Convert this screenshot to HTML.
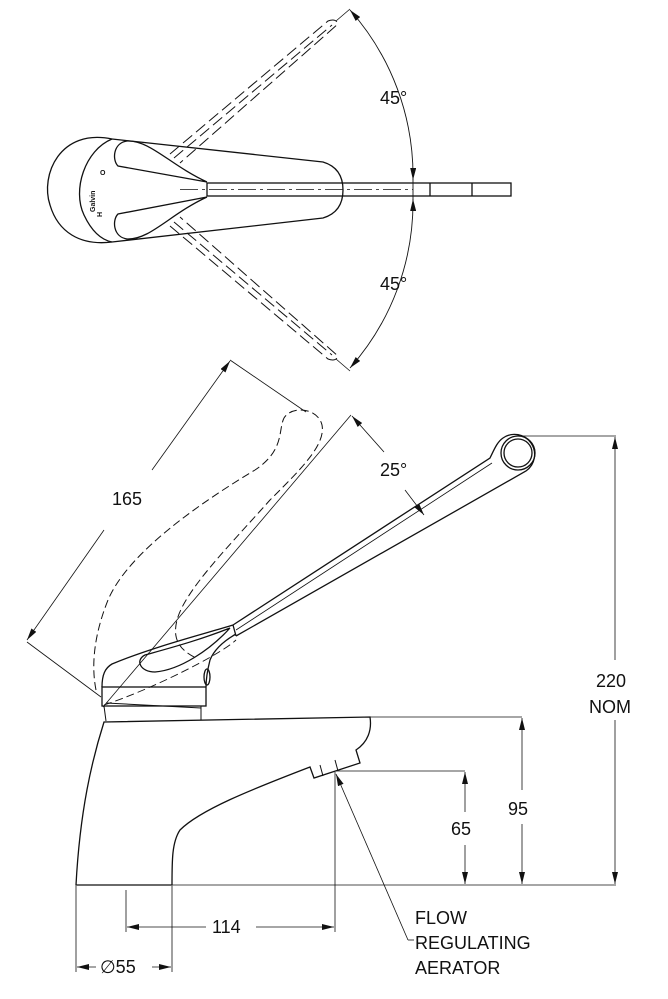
<!DOCTYPE html>
<html><head><meta charset="utf-8"><style>
html,body{margin:0;padding:0;background:#fff}
svg{display:block}
text{font-family:"Liberation Sans",sans-serif;font-size:18px;fill:#111}
</style></head><body>
<svg width="668" height="999" viewBox="0 0 668 999" xmlns="http://www.w3.org/2000/svg">
<defs>
<marker id="ar" viewBox="0 0 12 6" refX="12" refY="3" markerWidth="12" markerHeight="6" orient="auto-start-reverse" markerUnits="userSpaceOnUse"><path d="M0,0 L12,3 L0,6 z" fill="#111"/></marker>
</defs>
<g fill="none" stroke="#111" stroke-width="1.3">
<!-- TOP VIEW -->
<path d="M112,139 C60,128 40,175 50,205 C58,232 80,246 112,242"/>
<path d="M112,139 C85,150 72,190 84,215 C92,232 102,240 112,242"/>
<path d="M112,139 L323,162 Q343,168 343,190 Q343,212 323,218 L112,242"/>
<path d="M207,182 C170,165 150,140 127,141 C113,143 112,160 118,166 L207,182"/>
<path d="M207,197 C170,214 150,240 127,239 C113,237 112,220 118,214 L207,197"/>
<rect x="207" y="183" width="304" height="13"/>
<line x1="430" y1="183" x2="430" y2="196"/>
<line x1="472" y1="183" x2="472" y2="196"/>
<line x1="180" y1="189.5" x2="413" y2="189.5" stroke-width="0.8" stroke-dasharray="18,4,3,4"/>
<g stroke-dasharray="12,5" stroke-width="1">
<path d="M170,154 L328,21 Q336,18 338,24 L180,163"/>
<path d="M174,158 L332,25"/>
<path d="M170,226 L328,359 Q336,362 338,356 L180,217"/>
<path d="M174,222 L332,355"/>
</g>
<line x1="336" y1="21" x2="350" y2="9" stroke-width="0.8"/>
<line x1="336" y1="359" x2="350" y2="371" stroke-width="0.8"/>
<path d="M350,10 A250,250 0 0 1 413,180" stroke-width="0.9" marker-start="url(#ar)" marker-end="url(#ar)"/>
<path d="M413,199 A250,250 0 0 1 350,368" stroke-width="0.9" marker-start="url(#ar)" marker-end="url(#ar)"/>
<line x1="413" y1="170" x2="413" y2="210" stroke-width="0.9"/>

<!-- SIDE VIEW handle -->
<rect x="102" y="687" width="104" height="19"/>
<path d="M104,706 L106,721 M201,706 L201,720 M106,703 L201,708" stroke-width="1"/>
<path d="M102,687 C102,675 105,668 112,664 C150,648 200,635 233,625"/>
<path d="M206,687 C206,678 208,668 210,660 C214,650 222,642 236,634"/>
<ellipse cx="207" cy="677" rx="3" ry="8"/>
<path d="M230,628 C200,640 170,648 145,655 C135,660 140,672 155,672 C180,670 210,650 230,628"/>
<path d="M233,625 L490,458 C494,450 497,442 503,438 A20,20 0 1 1 526,471 L236,636"/>
<path d="M236,630 L492,463" stroke-width="0.8"/>
<circle cx="518" cy="453" r="17"/>
<circle cx="518" cy="453" r="14"/>
<line x1="233" y1="625" x2="236" y2="636"/>
<!-- dashed upright lever -->
<path d="M96,690 C92,670 92,640 108,600 C125,560 180,515 255,470 C285,450 278,430 284,418 C292,405 318,408 322,425 C326,445 300,470 270,500 C230,545 185,590 177,620 C172,640 180,650 196,658" stroke-dasharray="8,4" stroke-width="1"/>
<path d="M104,705 C150,690 220,655 236,640" stroke-dasharray="8,4" stroke-width="0.9"/>
<!-- 165 dim -->
<line x1="230" y1="360" x2="306" y2="412" stroke-width="0.8"/>
<line x1="27" y1="642" x2="101" y2="697" stroke-width="0.8"/>
<line x1="230" y1="361" x2="152" y2="470" stroke-width="0.8" marker-start="url(#ar)"/>
<line x1="104" y1="530" x2="27" y2="640" stroke-width="0.8" marker-end="url(#ar)"/>
<!-- 25 dim -->
<line x1="351" y1="415" x2="103" y2="707" stroke-width="0.8"/>
<path d="M352,416 L384,452" stroke-width="0.8" marker-start="url(#ar)"/>
<path d="M405,490 L424,515" stroke-width="0.8" marker-end="url(#ar)"/>

<!-- BODY -->
<path d="M104,722 L370,717 C372,730 368,742 356,750 L360,763 L314,778 L310,767 C250,790 200,810 180,830 C172,842 172,860 172,885 L76,885 C80,810 92,760 104,722 Z"/>
<line x1="320" y1="765" x2="323" y2="776" stroke-width="1"/>
<line x1="335" y1="760" x2="338" y2="771" stroke-width="1"/>
<line x1="172" y1="885" x2="616" y2="885" stroke-width="0.8"/>
<!-- dims -->
<g stroke-width="0.8">
<line x1="335" y1="771" x2="465" y2="771"/>
<line x1="370" y1="717" x2="522" y2="717"/>
<line x1="520" y1="436" x2="616" y2="436"/>
<line x1="465" y1="772" x2="465" y2="812" marker-start="url(#ar)"/>
<line x1="465" y1="845" x2="465" y2="884" marker-end="url(#ar)"/>
<line x1="522" y1="718" x2="522" y2="790" marker-start="url(#ar)"/>
<line x1="522" y1="824" x2="522" y2="884" marker-end="url(#ar)"/>
<line x1="615" y1="437" x2="615" y2="660" marker-start="url(#ar)"/>
<line x1="615" y1="720" x2="615" y2="884" marker-end="url(#ar)"/>
<line x1="126" y1="890" x2="126" y2="932"/>
<line x1="335" y1="772" x2="335" y2="932"/>
<line x1="127" y1="927" x2="206" y2="927" marker-start="url(#ar)"/>
<line x1="256" y1="927" x2="334" y2="927" marker-end="url(#ar)"/>
<line x1="76" y1="886" x2="76" y2="972"/>
<line x1="172" y1="886" x2="172" y2="972"/>
<line x1="77" y1="967" x2="96" y2="967" marker-start="url(#ar)"/>
<line x1="152" y1="967" x2="171" y2="967" marker-end="url(#ar)"/>
<line x1="336" y1="774" x2="408" y2="940" marker-start="url(#ar)"/>
<line x1="408" y1="940" x2="414" y2="940"/>
</g>
</g>
<text x="380" y="104">45°</text>
<text x="380" y="290">45°</text>
<text x="112" y="505">165</text>
<text x="380" y="476">25°</text>
<text x="596" y="687">220</text>
<text x="589" y="713">NOM</text>
<text x="508" y="815">95</text>
<text x="451" y="835">65</text>
<text x="212" y="933">114</text>
<text x="100" y="973">∅55</text>
<text x="415" y="924">FLOW</text>
<text x="415" y="949">REGULATING</text>
<text x="415" y="974">AERATOR</text>
<text x="95" y="212" transform="rotate(-90 95 212)" style="font-size:7px;font-weight:bold">Galvin</text>
<text x="100" y="175" style="font-size:7px;font-weight:bold">O</text>
<text x="92" y="217" transform="rotate(-90 97 212)" style="font-size:7px;font-weight:bold">H</text>
</svg>
</body></html>
